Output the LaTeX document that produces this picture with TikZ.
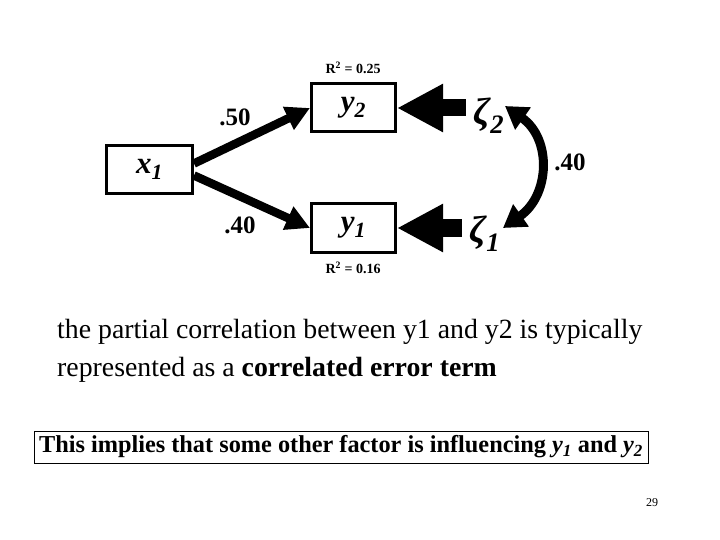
\documentclass[tikz,border=0pt]{standalone}
\usepackage{fontspec}
\setmainfont{Liberation Serif}
\usetikzlibrary{arrows.meta}

\begin{document}
\begin{tikzpicture}[x=1pt,y=-1pt,
  var/.style={draw, line width=3pt, minimum width=84pt, minimum height=48pt, inner sep=0pt, font=\fontsize{31}{31}\selectfont\bfseries\itshape},
  path/.style={line width=8.5pt, -{Triangle[length=24pt,width=24pt]}},
  err/.style={line width=17pt, -{Triangle[length=46pt,width=45pt]}},
  coef/.style={font=\fontsize{25}{25}\selectfont\bfseries},
  rsq/.style={font=\fontsize{14}{14}\selectfont\bfseries},
  zeta/.style={font=\fontsize{38}{38}\selectfont\bfseries\itshape, inner sep=0pt}]
\useasboundingbox (0,0) rectangle (720,540);

\node[var, minimum width=86pt] (x1) at (149.5,169.5) {x\textsubscript{1}};
\node[var] (y2) at (353.5,108) {y\textsubscript{2}};
\node[var] (y1) at (353.5,228) {y\textsubscript{1}};
\node[zeta] (zeta2) at (489,116) {ζ\textsubscript{2}};
\node[zeta] (zeta1) at (485,234) {ζ\textsubscript{1}};
\coordinate (corr2) at (505,106);
\coordinate (corr1) at (503,228);

\node[rsq] (r2) at (353,68) {R\textsuperscript{2} = 0.25};
\node[rsq] (r1) at (353,268) {R\textsuperscript{2} = 0.16};
\node[coef] (b2) at (235,117) {.50};
\node[coef] (b1) at (240,225) {.40};
\node[coef] (psi) at (570,162) {.40};

\draw[path] ([yshift=6pt]x1.east) -- (y2.west);
\draw[path] ([yshift=-6pt]x1.east) -- (y1.west);
\draw[err] (zeta2.west |- y2.east) ++(-8pt,0) coordinate (e2) (e2) -- (y2.east);
\draw[err] (zeta1.west |- y1.east) ++(-8pt,0) coordinate (e1) (e1) -- (y1.east);
\draw[line width=9pt, {Triangle[length=22pt,width=26pt]}-{Triangle[length=22pt,width=26pt]}] (corr2) to[out=-35, in=35, looseness=1.2] (corr1);

\node[anchor=base west, font=\fontsize{27.8}{27.8}\selectfont, inner sep=0pt] (line1) at (57,338) {the partial correlation between y1 and y2 is typically};
\node[anchor=base west, font=\fontsize{27.8}{27.8}\selectfont, inner sep=0pt] (line2) at (57,376) {represented as a \textbf{correlated error term}};
\node[draw, line width=1pt, minimum width=614pt, minimum height=32pt, font=\fontsize{24.3}{24.3}\selectfont\bfseries, inner sep=0pt] (note) at (341,447) {This implies that some other factor is influencing \textit{y\textsubscript{1}} and \textit{y\textsubscript{2}}};
\node[font=\fontsize{12}{12}\selectfont] (page) at (652,503) {29};
\end{tikzpicture}
\end{document}
